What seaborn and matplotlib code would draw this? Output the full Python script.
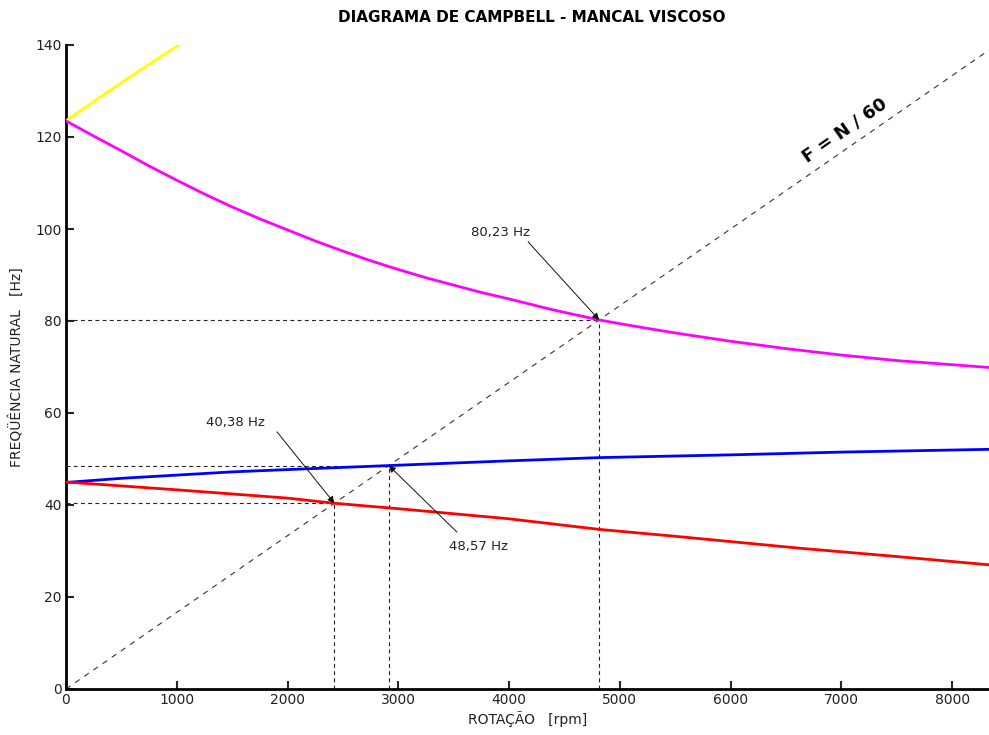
import numpy as np
import pandas as pd
import matplotlib
matplotlib.use("Agg")
import matplotlib.pyplot as plt
import seaborn as sns

# Rotation speed (rpm) and natural frequencies (Hz) of each whirl mode
rpm_yellow = [0, 250, 500, 750, 1000, 1250]
hz_yellow = [123.5, 127.7, 131.8, 135.8, 139.7, 143.5]

rpm_magenta = [0, 250, 500, 750, 1000, 1250, 1500, 1750, 2000, 2250, 2500,
               2750, 3000, 3250, 3500, 3750, 4000, 4400, 4814, 5100, 5500,
               6000, 6500, 7000, 7500, 8333]
hz_magenta = [123.5, 120.2, 117.0, 113.7, 110.6, 107.6, 104.8, 102.2, 99.8,
              97.4, 95.2, 93.1, 91.2, 89.4, 87.8, 86.2, 84.8, 82.4, 80.23,
              79.0, 77.4, 75.6, 74.0, 72.6, 71.4, 69.9]

rpm_blue = [0, 500, 1000, 1500, 2000, 2914, 4000, 4814, 6000, 7000, 8333]
hz_blue = [44.9, 45.8, 46.5, 47.2, 47.7, 48.57, 49.6, 50.3, 50.9, 51.5, 52.1]

rpm_red = [0, 1000, 2000, 2423, 3000, 4000, 4814, 5500, 6628, 7500, 8333]
hz_red = [45.0, 43.3, 41.5, 40.38, 39.2, 37.0, 34.7, 33.2, 30.6, 28.8, 27.0]

# Critical speeds: intersections with the synchronous line F = N / 60
crit_labels = ["40,38 Hz", "48,57 Hz", "80,23 Hz"]
crit_hz = [40.38, 48.57, 80.23]
label_pos = [(1526, 58.0), (3720, 30.9), (3919, 99.3)]
arrow_tail = [(1905, 55.9), (3530, 34.1), (4172, 97.2)]

x_max = 8333.3
y_max = 140

sns.set_style("white")
plt.rcParams["font.family"] = ["DejaVu Sans"]

fig = plt.figure(figsize=(9.89, 7.35), dpi=100)
ax = fig.add_axes([66 / 989, 46 / 735, 1 - 66 / 989, (689 - 45) / 735])

series = [
    (rpm_yellow, hz_yellow, "#ffff00"),
    (rpm_magenta, hz_magenta, "#ff00ff"),
    (rpm_blue, hz_blue, "#0000ff"),
    (rpm_red, hz_red, "#ff0000"),
]
for xs, ys, col in series:
    df = pd.DataFrame({"rpm": xs, "hz": ys})
    sns.lineplot(data=df, x="rpm", y="hz", color=col, lw=2.0, ax=ax,
                 sort=False, zorder=3)

# Synchronous excitation line
sync = pd.DataFrame({"rpm": [0, x_max], "hz": [0, x_max / 60]})
sns.lineplot(data=sync, x="rpm", y="hz", color="#333333", lw=0.8,
             ax=ax, zorder=2)
ax.lines[-1].set_dashes([5, 5])

# Guide lines to the axes for each critical speed
for f in crit_hz:
    n = f * 60
    ax.plot([0, n], [f, f], color="#222222", lw=0.8, dashes=[3.5, 3], zorder=2)
    ax.plot([n, n], [0, f], color="#222222", lw=0.8, dashes=[3.5, 3], zorder=2)

for lab, f, (tx, ty), (ax0, ay0) in zip(crit_labels, crit_hz, label_pos, arrow_tail):
    ax.text(tx, ty, lab, fontsize=9.5, color="#222222", ha="center", va="center")
    ax.annotate("", xy=(f * 60, f), xytext=(ax0, ay0),
                arrowprops=dict(arrowstyle="-|>", color="#111111", lw=0.7,
                                mutation_scale=10, shrinkA=0, shrinkB=0),
                zorder=4)

ax.text(7034, 121.5, "F = N / 60", fontsize=13, fontweight="bold",
        rotation=35, ha="center", va="center", color="black")

ax.set_xlim(0, x_max)
ax.set_ylim(0, y_max)
ax.set_xticks(np.arange(0, 8001, 1000))
ax.set_yticks(np.arange(0, 141, 20))
ax.tick_params(direction="in", length=6, width=1.5, labelsize=10,
               labelcolor="#222222", pad=3, left=True, bottom=True)

for side in ("top", "right"):
    ax.spines[side].set_visible(False)
for side in ("left", "bottom"):
    ax.spines[side].set_linewidth(2)
    ax.spines[side].set_color("black")

ax.set_xlabel("ROTAÇÃO   [rpm]", fontsize=10, color="#222222", labelpad=3)
ax.set_ylabel("FREQÜÊNCIA NATURAL   [Hz]", fontsize=10, color="#222222",
              labelpad=8)
fig.text(532 / 989, 1 - 18 / 735, "DIAGRAMA DE CAMPBELL - MANCAL VISCOSO",
         ha="center", va="center", fontsize=11, fontweight="heavy",
         color="black")

fig.savefig("out.png", dpi=100)
